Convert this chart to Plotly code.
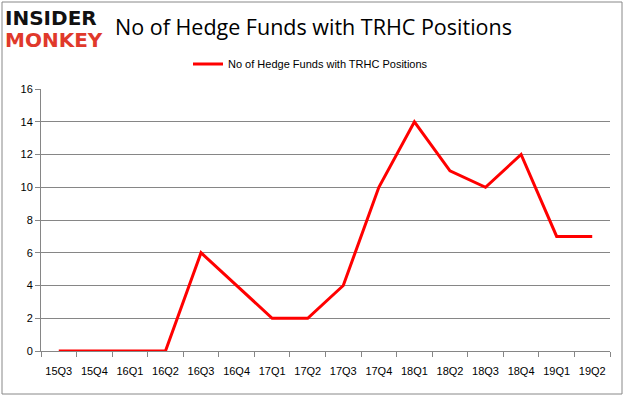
import plotly.graph_objects as go

quarters = ["15Q3","15Q4","16Q1","16Q2","16Q3","16Q4","17Q1","17Q2","17Q3","17Q4","18Q1","18Q2","18Q3","18Q4","19Q1","19Q2"]
funds = [0,0,0,0,6,4,2,2,4,10,14,11,10,12,7,7]
series_name = "No of Hedge Funds with TRHC Positions"
title_text = "No of Hedge Funds with TRHC Positions"

W, H = 626, 397
L, R, T, B = 41, 16, 89, 46
pw, ph = W - L - R, H - T - B

def px(x):
    return (x - L) / pw
def py(y):
    return (H - B - y) / ph

fig = go.Figure()
fig.add_trace(go.Scatter(x=quarters, y=funds, mode="lines", name=series_name,
                         line=dict(color="#ff0000", width=3)))

fig.update_layout(
    width=W, height=H,
    margin=dict(l=L, r=R, t=T, b=B, autoexpand=False),
    paper_bgcolor="white", plot_bgcolor="white",
    font=dict(family="Liberation Sans, Arial", size=11, color="#000000"),
    showlegend=True,
    legend=dict(orientation="h", x=px(188), y=py(64), xanchor="left", yanchor="middle",
                font=dict(size=11), bgcolor="rgba(0,0,0,0)", itemwidth=30),
    xaxis=dict(type="category", tickson="boundaries", ticks="outside", ticklen=5,
               tickcolor="#868686", showline=True, linecolor="#868686", linewidth=1,
               showgrid=False, range=[-0.5, 15.5], tickfont=dict(size=11),
               tickangle=0, automargin=False, ticklabelstandoff=10),
    yaxis=dict(range=[0, 16], dtick=2, ticks="outside", ticklen=5, tickcolor="#868686",
               showline=True, linecolor="#868686", linewidth=1, automargin=False,
               showgrid=True, gridcolor="#868686", gridwidth=1, zeroline=False,
               tickfont=dict(size=11)),
    shapes=[dict(type="rect", xref="paper", yref="paper",
                 x0=px(2), x1=px(622), y0=py(394), y1=py(2),
                 line=dict(color="#888888", width=1), fillcolor="rgba(0,0,0,0)", layer="below")],
    annotations=[
        dict(text="<b>INSIDER</b>", xref="paper", yref="paper", x=px(3), y=py(18),
             xanchor="left", yanchor="middle", showarrow=False,
             font=dict(family="DejaVu Sans", size=20, color="#111111")),
        dict(text="<b>MONKEY</b>", xref="paper", yref="paper", x=px(3), y=py(40),
             xanchor="left", yanchor="middle", showarrow=False,
             font=dict(family="DejaVu Sans", size=20, color="#e0392b")),
        dict(text=title_text, xref="paper", yref="paper", x=px(113), y=py(27),
             xanchor="left", yanchor="middle", showarrow=False,
             font=dict(family="Open Sans", size=21.5, color="#000000")),
    ],
)

fig.write_html("out.html", config={"displayModeBar": False},
               post_script="document.body.style.margin='0';document.body.style.overflow='hidden';")
